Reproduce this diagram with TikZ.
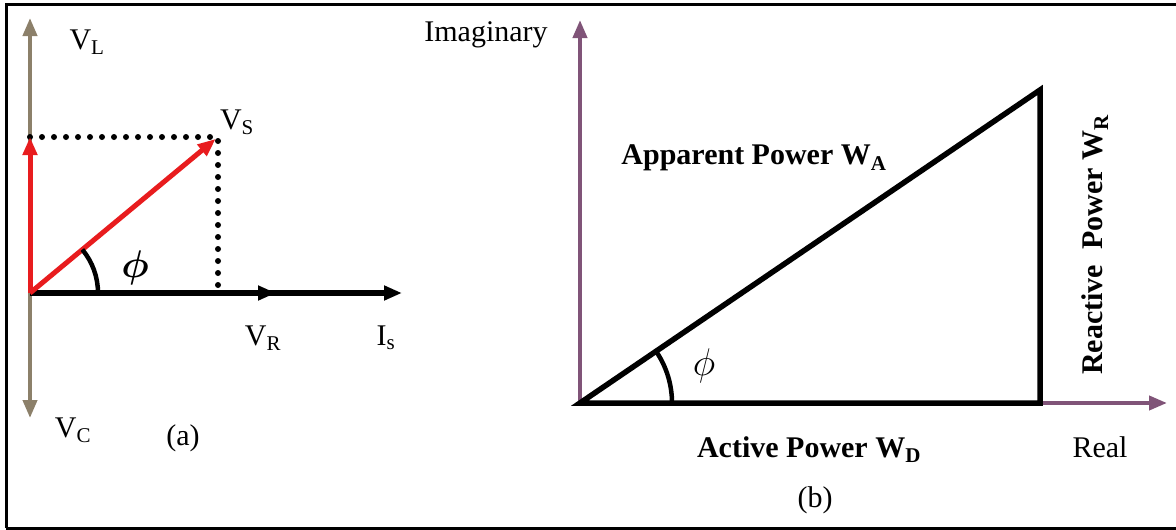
\documentclass[tikz,border=0pt]{standalone}
\usepackage{fontspec}
\usepackage{amsmath,bm}
\setmainfont{Liberation Serif}
\usetikzlibrary{arrows.meta,calc}
\definecolor{axgray}{RGB}{140,128,106}
\definecolor{axpurple}{RGB}{128,84,120}
\definecolor{vred}{RGB}{232,28,30}
\begin{document}
\begin{tikzpicture}[x=1pt,y=-1pt,
  lbl/.style={inner sep=0pt, font=\fontsize{30}{34}\selectfont},
  blbl/.style={inner sep=0pt, font=\fontsize{30}{34}\selectfont\bfseries},
  philbl/.style={inner sep=0pt, font=\fontsize{24}{28}\selectfont, scale=1.55},
  tip/.style={-{Triangle[length=18pt,width=14pt]}},
  dotline/.style={line width=6pt, line cap=round, dash pattern=on 0pt off 12pt},
  frame/.style={line width=3pt}]
\useasboundingbox (0,0) rectangle (1176,530);
\draw[frame] (6,528) -- (6,4) -- (1176,4);
\draw[frame] (6,528) -- (1176,528);

% ---------- panel (a)
\coordinate (O) at (30,293);
\coordinate (VLt) at (30,18);
\coordinate (VCt) at (30,418);
\coordinate (Lt) at (30,137);
\coordinate (S) at (218,137);
\coordinate (Sf) at (218,287);
\coordinate (R) at (276,293);
\coordinate (I) at (402,293);

\draw[axgray, line width=4pt, tip] (O) -- (VLt);
\draw[axgray, line width=4pt, tip] (O) -- (VCt);
\draw[line width=5.5pt, tip] (O) -- (I);
\draw[line width=5.5pt, tip] (O) -- (R);
\draw[dotline] (Lt) -- (S) -- (Sf);
\draw[vred, line width=5pt, tip] (O) -- (Lt);
\draw[vred, line width=5pt, tip, shorten >=3pt] (O) -- (S);
\draw[line width=4.5pt] ($(O)+(68,0)$) arc[start angle=0, end angle=-39.7, radius=68];

\node[lbl] (vl) at (87,42) {V\textsubscript{L}};
\node[lbl] (vs) at (237,122) {V\textsubscript{S}};
\node[lbl] (vr) at (263,338) {V\textsubscript{R}};
\node[lbl] (is) at (386,338) {I\textsubscript{s}};
\node[lbl] (vc) at (73,430) {V\textsubscript{C}};
\node[philbl] (phia) at (135,268) {$\bm{\phi}$};
\node[lbl] (capa) at (183,438) {(a)};

% ---------- panel (b)
\coordinate (P) at (580,403);
\coordinate (Ptop) at (580,20);
\coordinate (Pright) at (1167,403);
\coordinate (T) at (1040,90);
\coordinate (B) at (1040,403);

\draw[axpurple, line width=4pt, tip] (P) -- (Ptop);
\draw[axpurple, line width=4pt, tip] (P) -- (Pright);
\draw[line width=5.5pt, line join=miter] (P) -- (T) -- (B) -- cycle;
\draw[line width=4.5pt] ($(P)+(92,0)$) arc[start angle=0, end angle=-34.2, radius=92];

\node[lbl] (imag) at (486,35) {Imaginary};
\node[lbl] (real) at (1100,447) {Real};
\node[blbl] (wa) at (754,158) {Apparent Power W\textsubscript{A}};
\node[blbl] (wd) at (809,450) {Active Power W\textsubscript{D}};
\node[blbl, rotate=90] (wr) at (1095,245) {Reactive\ \ Power W\textsubscript{R}};
\node[philbl] (phib) at (704,366) {$\phi$};
\node[lbl] (capb) at (815,500) {(b)};
\end{tikzpicture}
\end{document}
